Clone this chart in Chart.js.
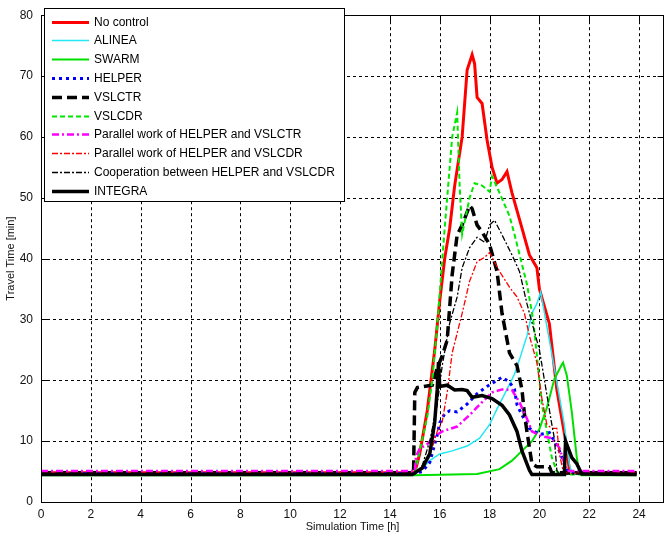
<!DOCTYPE html>
<html><head><meta charset="utf-8">
<script src="https://cdn.jsdelivr.net/npm/chart.js@4"></script>
<style>html,body{margin:0;padding:0;background:#fff}#wrap{width:667px;height:540px}</style>
</head><body><div id="wrap"><canvas id="c" width="667" height="540"></canvas></div>
<script>
const xTicks = [0,2,4,6,8,10,12,14,16,18,20,22,24];
const yTicks = [0,10,20,30,40,50,60,70,80];
const seriesNames = ["No control","ALINEA","SWARM","HELPER","VSLCTR","VSLCDR",
  "Parallel work of HELPER and VSLCTR","Parallel work of HELPER and VSLCDR",
  "Cooperation between HELPER and VSLCDR","INTEGRA"];

const noControl = [[0,4.8],[15,4.8],[15.2,8],[15.5,15],[15.8,25],[16.0,33],[16.2,40],[16.4,45],[16.6,52],[16.9,60],[17.1,71],[17.3,73.5],[17.4,72],[17.5,66.5],[17.7,65.5],[17.9,59.5],[18.1,55],[18.3,52.4],[18.5,53],[18.7,54.3],[18.9,50.8],[19.3,45],[19.6,40.6],[19.9,38.5],[20.0,35],[20.4,29.3],[20.7,18.5],[21.1,8.9],[21.2,5.2],[21.4,4.8],[23.9,4.8]];
const alinea = [[0,4.6],[15,4.6],[15.3,5.5],[15.6,6.8],[16.0,7.9],[16.5,8.4],[17.1,9.2],[17.6,10.5],[18.0,12.7],[18.3,15.3],[18.7,18.5],[19.0,21],[19.2,23.4],[19.5,27.3],[19.7,31],[19.9,32.6],[20.05,34.5],[20.4,26.6],[20.7,19.7],[21.0,12.7],[21.2,6.3],[21.3,4.6],[23.9,4.6]];
const swarm = [[0,4.4],[15,4.4],[17.5,4.6],[18.4,5.4],[18.9,6.8],[19.3,8.4],[19.7,10],[20.0,12],[20.3,15.5],[20.6,20.2],[20.9,22.6],[20.95,22.9],[21.1,20.8],[21.3,14.8],[21.5,7.3],[21.6,5],[21.7,4.4],[23.9,4.4]];
const helper = [[0,4.7],[15,4.7],[15.3,5],[15.6,6.5],[15.7,8],[15.9,11],[16.0,13],[16.2,14.5],[16.4,15],[16.7,14.8],[17.1,16.1],[17.5,17.8],[17.9,19],[18.3,20],[18.5,20.5],[18.8,19.7],[19.0,18.5],[19.1,16],[19.3,14.3],[19.6,12.1],[20.0,11.1],[20.4,11.4],[20.6,10],[20.8,8.4],[21.1,5.2],[21.3,4.7],[23.9,4.7]];
const vslctr = [[0,4.8],[14.95,4.8],[15.0,18],[15.1,18.8],[15.7,19.2],[15.9,22],[16.1,24],[16.3,26.6],[16.5,37.4],[16.7,43.9],[16.9,45.5],[17.2,48.7],[17.3,48.2],[17.5,45.5],[17.7,44.4],[18.0,42.3],[18.3,37.9],[18.5,31],[18.8,24.5],[19.1,22.4],[19.3,18.5],[19.4,14.4],[19.5,11.6],[19.7,6.3],[19.9,5.8],[20.4,5.8],[20.5,4.8],[23.9,4.8]];
const vslcdr = [[0,4.5],[15,4.5],[15.2,8.5],[15.5,14],[15.7,20],[15.9,29],[16.2,45],[16.5,60],[16.7,64],[16.8,52],[16.9,44],[17.1,48],[17.2,50],[17.4,52.4],[17.7,52],[18.0,51],[18.1,53.5],[18.4,50.8],[18.8,47],[19.0,44],[19.5,35.8],[19.75,30],[20.1,16],[20.5,7.3],[20.7,5],[20.9,4.5],[23.9,4.5]];
const parHelperVslctr = [[0,5.1],[15,5.1],[15.05,7.5],[15.2,8.8],[15.5,9.5],[15.8,10.8],[16.1,11.6],[16.7,12.4],[17.2,14.3],[17.7,16.4],[18.1,18],[18.5,18.5],[18.9,18.4],[19.2,16.4],[19.5,13.7],[19.7,11.6],[20.1,10.8],[20.5,10.5],[20.8,8.9],[21.1,5.1],[23.9,5.1]];
const parHelperVslcdr = [[0,4.7],[15,4.7],[15.3,5.5],[15.7,8.9],[15.9,11.6],[16.1,13.2],[16.3,18],[16.5,24.5],[16.9,31],[17.2,36.3],[17.5,39.5],[17.8,40.2],[18.0,41],[18.1,40.2],[18.4,37.9],[18.8,35.3],[19.1,33.7],[19.4,31],[19.6,27.3],[19.9,22.9],[20.1,17],[20.3,12.7],[20.5,12.1],[20.7,12.1],[20.8,7.9],[20.95,5.2],[21.1,4.7],[23.9,4.7]];
const coopHelperVslcdr = [[0,4.6],[15,4.6],[15.3,6],[15.6,10],[15.9,16],[16.1,22.4],[16.4,29.4],[16.7,33.7],[16.9,38.5],[17.2,41.8],[17.5,43.5],[17.8,42.7],[18.0,45.5],[18.2,46.3],[18.5,43.9],[18.9,40.6],[19.2,37.9],[19.5,32.6],[19.7,29.5],[20.0,25],[20.3,17.6],[20.5,12.7],[20.6,10.5],[20.7,5.2],[20.8,4.6],[23.9,4.6]];
const integra = [[0,4.5],[14.9,4.5],[15.3,5.6],[15.6,7.9],[15.7,10.5],[15.8,13.2],[15.9,18.5],[15.95,23],[16.0,19],[16.3,19.2],[16.6,18.4],[16.9,18.5],[17.1,18.3],[17.3,17.2],[17.7,17.5],[18.1,17],[18.5,15.9],[18.8,14.3],[19.1,11.6],[19.3,8.4],[19.6,5.2],[19.7,4.5],[21.0,4.5],[21.05,10],[21.3,7.3],[21.5,6.3],[21.7,4.6],[23.9,4.5]];

const seriesData = [noControl, alinea, swarm, helper, vslctr, vslcdr, parHelperVslctr, parHelperVslcdr, coopHelperVslcdr, integra];
const styles = [
  {c:'#ff0000', w:3,   d:[]},
  {c:'#22e8f4', w:1.5, d:[]},
  {c:'#00e000', w:2,   d:[]},
  {c:'#0000ff', w:3,   d:[3,4]},
  {c:'#000000', w:3.5, d:[10,5]},
  {c:'#00e800', w:2,   d:[5,3]},
  {c:'#ff00ff', w:2.5, d:[7,3,2,3]},
  {c:'#ff0000', w:1.3, d:[6,2,2,2]},
  {c:'#000000', w:1.3, d:[6,2,2,2]},
  {c:'#000000', w:3.5, d:[]}
];

const datasets = seriesNames.map((n,i)=>({
  label:n,
  data: seriesData[i].map(p=>({x:p[0],y:p[1]})),
  borderColor: styles[i].c, borderWidth: styles[i].w, borderDash: styles[i].d,
  backgroundColor: styles[i].c, pointRadius:0, tension:0, fill:false,
  order: seriesNames.length-1-i
}));

const FONT = "'Liberation Sans', Arial, sans-serif";

const framePlugin = {
  id:'frame',
  beforeDatasetsDraw(chart){
    const {ctx, chartArea:a, scales:{x,y}} = chart;
    ctx.save();
    ctx.strokeStyle='#000'; ctx.lineWidth=1; ctx.setLineDash([3,3]);
    xTicks.forEach(v=>{ if(v===0) return; const px=Math.round(x.getPixelForValue(v))+0.5;
      ctx.beginPath(); ctx.moveTo(px,a.top); ctx.lineTo(px,a.bottom); ctx.stroke(); });
    yTicks.forEach(v=>{ if(v===0||v===80) return; const py=Math.round(y.getPixelForValue(v))+0.5;
      ctx.beginPath(); ctx.moveTo(a.left,py); ctx.lineTo(a.right,py); ctx.stroke(); });
    ctx.restore();
  },
  afterDatasetsDraw(chart){
    const {ctx, chartArea:a, scales:{x,y}} = chart;
    ctx.save();
    ctx.strokeStyle='#000'; ctx.lineWidth=1; ctx.setLineDash([]);
    const L=Math.round(a.left)+0.5, R=Math.round(a.right)-0.5, T=Math.round(a.top)+0.5, B=Math.round(a.bottom)+0.5;
    ctx.strokeRect(L,T,R-L,B-T);
    ctx.beginPath();
    xTicks.forEach(v=>{ const px=Math.round(x.getPixelForValue(v))+0.5;
      ctx.moveTo(px,B); ctx.lineTo(px,B-6); ctx.moveTo(px,T); ctx.lineTo(px,T+6); });
    yTicks.forEach(v=>{ const py=Math.round(y.getPixelForValue(v))+0.5;
      ctx.moveTo(L,py); ctx.lineTo(L+6,py); ctx.moveTo(R,py); ctx.lineTo(R-6,py); });
    ctx.stroke();
    // legend
    const bx=44.5, by=8.5, bw=300, bh=193;
    ctx.fillStyle='#fff'; ctx.fillRect(bx,by,bw,bh);
    ctx.strokeStyle='#000'; ctx.lineWidth=1; ctx.strokeRect(bx,by,bw,bh);
    ctx.font='12px '+FONT; ctx.textBaseline='middle'; ctx.textAlign='left';
    seriesNames.forEach((n,i)=>{
      const yy = Math.round(21.5 + i*18.8)+0.5;
      const s = styles[i];
      ctx.save();
      ctx.strokeStyle=s.c; ctx.lineWidth=s.w; ctx.setLineDash(s.d); ctx.lineCap='butt';
      ctx.beginPath(); ctx.moveTo(52,yy); ctx.lineTo(89,yy); ctx.stroke();
      ctx.restore();
      ctx.fillStyle='#000'; ctx.fillText(n,94,yy+0.5);
    });
    ctx.restore();
  }
};

new Chart(document.getElementById('c'), {
  type:'line',
  data:{datasets},
  options:{
    responsive:false, animation:false, devicePixelRatio:1,
    layout:{padding:{left:0,top:6,right:3,bottom:0}},
    plugins:{legend:{display:false}, tooltip:{enabled:false}},
    scales:{
      x:{type:'linear', min:0, max:25,
        afterBuildTicks:s=>{s.ticks=xTicks.map(v=>({value:v}));},
        afterFit:s=>{s.height=38;},
        grid:{display:false, drawTicks:false}, border:{display:false},
        ticks:{font:{family:FONT,size:12}, color:'#111', padding:5, maxRotation:0, autoSkip:false},
        title:{display:true, text:'Simulation Time [h]', font:{family:FONT,size:11}, color:'#111', padding:{top:0,bottom:6}}
      },
      y:{type:'linear', min:0, max:80,
        afterBuildTicks:s=>{s.ticks=yTicks.map(v=>({value:v}));},
        afterFit:s=>{s.width=41;},
        grid:{display:false, drawTicks:false}, border:{display:false},
        ticks:{font:{family:FONT,size:12}, color:'#111', padding:8, autoSkip:false},
        title:{display:true, text:'Travel Time [min]', font:{family:FONT,size:11}, color:'#111', padding:{top:4,bottom:0}}
      }
    }
  },
  plugins:[framePlugin]
});
</script></body></html>
